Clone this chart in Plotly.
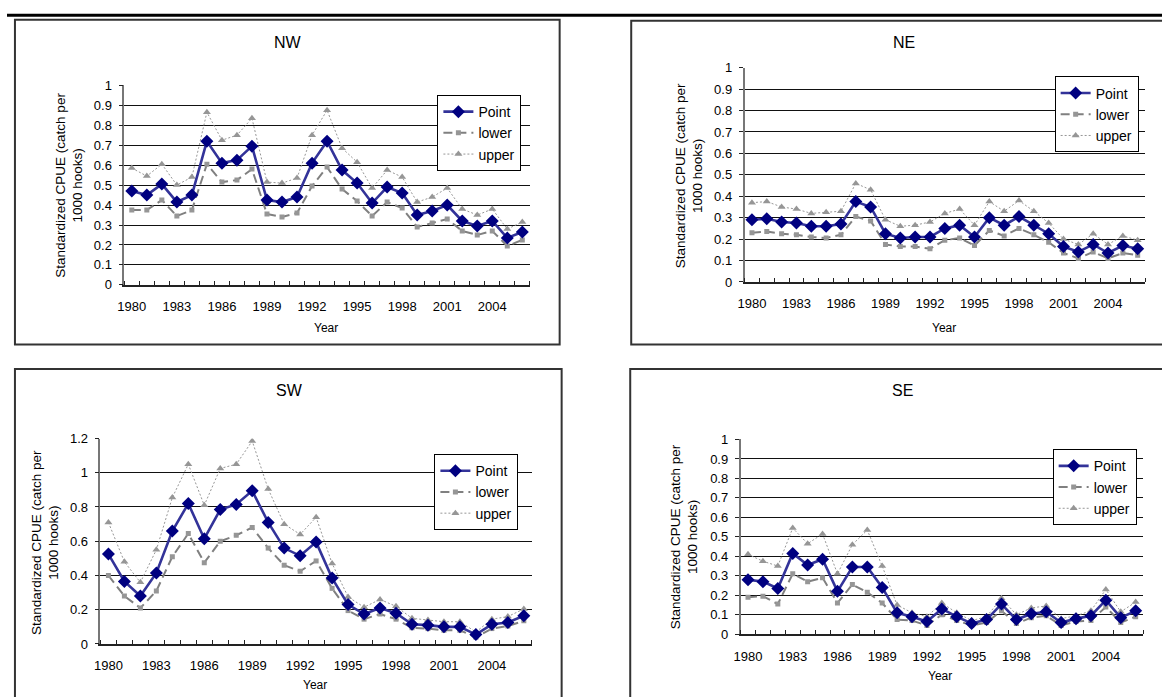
import plotly.graph_objects as go

# ---------------- data ----------------
years = list(range(1980, 2007))
tick_years = [1980, 1983, 1986, 1989, 1992, 1995, 1998, 2001, 2004]

nw_point = [0.47, 0.45, 0.505, 0.415, 0.45, 0.72, 0.61, 0.625, 0.695, 0.425, 0.415, 0.44, 0.61, 0.72,
            0.575, 0.51, 0.41, 0.49, 0.46, 0.35, 0.37, 0.40, 0.32, 0.295, 0.32, 0.235, 0.265]
nw_lower = [0.375, 0.375, 0.425, 0.345, 0.375, 0.605, 0.515, 0.525, 0.58, 0.355, 0.34, 0.36, 0.495, 0.59,
            0.48, 0.42, 0.345, 0.415, 0.385, 0.29, 0.31, 0.33, 0.27, 0.25, 0.27, 0.195, 0.225]
nw_upper = [0.585, 0.545, 0.605, 0.50, 0.54, 0.865, 0.725, 0.75, 0.835, 0.515, 0.51, 0.535, 0.75, 0.875,
            0.685, 0.615, 0.485, 0.575, 0.54, 0.415, 0.44, 0.485, 0.38, 0.35, 0.38, 0.28, 0.315]

ne_point = [0.29, 0.295, 0.28, 0.275, 0.26, 0.26, 0.27, 0.375, 0.35, 0.225, 0.205, 0.21, 0.21, 0.25,
            0.265, 0.21, 0.30, 0.265, 0.305, 0.265, 0.225, 0.165, 0.14, 0.175, 0.135, 0.17, 0.155]
ne_lower = [0.23, 0.235, 0.225, 0.22, 0.21, 0.205, 0.22, 0.305, 0.285, 0.175, 0.165, 0.165, 0.155, 0.195,
            0.205, 0.17, 0.24, 0.215, 0.25, 0.22, 0.185, 0.135, 0.11, 0.14, 0.11, 0.135, 0.125]
ne_upper = [0.37, 0.375, 0.35, 0.34, 0.32, 0.325, 0.33, 0.46, 0.43, 0.29, 0.26, 0.265, 0.28, 0.32,
            0.34, 0.265, 0.375, 0.33, 0.38, 0.33, 0.275, 0.20, 0.175, 0.225, 0.175, 0.215, 0.195]

sw_point = [0.525, 0.365, 0.28, 0.415, 0.66, 0.82, 0.615, 0.785, 0.815, 0.895, 0.71, 0.56, 0.515, 0.595,
            0.385, 0.23, 0.175, 0.21, 0.18, 0.115, 0.11, 0.10, 0.10, 0.055, 0.115, 0.125, 0.165]
sw_lower = [0.40, 0.28, 0.21, 0.31, 0.51, 0.645, 0.475, 0.60, 0.635, 0.68, 0.56, 0.46, 0.425, 0.485,
            0.325, 0.195, 0.145, 0.175, 0.145, 0.095, 0.09, 0.08, 0.08, 0.04, 0.09, 0.105, 0.135]
sw_upper = [0.71, 0.48, 0.36, 0.55, 0.855, 1.05, 0.81, 1.025, 1.05, 1.185, 0.905, 0.70, 0.64, 0.74,
            0.47, 0.275, 0.215, 0.26, 0.22, 0.15, 0.14, 0.13, 0.13, 0.07, 0.145, 0.16, 0.205]

se_point = [0.28, 0.27, 0.235, 0.415, 0.355, 0.385, 0.22, 0.345, 0.345, 0.24, 0.11, 0.09, 0.065, 0.13,
            0.09, 0.055, 0.075, 0.155, 0.075, 0.105, 0.115, 0.06, 0.08, 0.095, 0.175, 0.085, 0.12]
se_lower = [0.19, 0.195, 0.155, 0.31, 0.27, 0.29, 0.16, 0.255, 0.215, 0.16, 0.075, 0.07, 0.045, 0.10,
            0.07, 0.045, 0.06, 0.12, 0.055, 0.085, 0.095, 0.045, 0.065, 0.07, 0.14, 0.06, 0.09]
se_upper = [0.41, 0.375, 0.35, 0.545, 0.465, 0.515, 0.31, 0.46, 0.535, 0.35, 0.15, 0.11, 0.09, 0.16,
            0.11, 0.07, 0.09, 0.185, 0.10, 0.135, 0.145, 0.08, 0.095, 0.12, 0.23, 0.115, 0.165]

series_names = ["Point", "lower", "upper"]
y_title = "Standardized CPUE (catch per<br>1000 hooks)"
x_title = "Year"

# ---------------- layout helpers ----------------
W, H = 1162, 697
FONT = "Liberation Sans, Arial, sans-serif"


def fx(px):
    return px / W


def fy(py):
    return 1 - py / H


panels = [
    dict(title="NW", data=(nw_point, nw_lower, nw_upper), ymax=1.0, ystep=0.1,
         plot=(118, 80, 526, 284), title_xy=(283, 36), ytitle_xy=(62, 182), xtitle_xy=(321, 328),
         legend_xy=(433, 90), box=(8, 13, 556, 345)),
    dict(title="NE", data=(ne_point, ne_lower, ne_upper), ymax=1.0, ystep=0.1,
         plot=(742, 62, 1145, 281), title_xy=(902, 36), ytitle_xy=(686, 172), xtitle_xy=(943, 328),
         legend_xy=(1054, 71), box=(628, 14, 1175, 345)),
    dict(title="SW", data=(sw_point, sw_lower, sw_upper), ymax=1.2, ystep=0.2,
         plot=(94, 441, 528, 651), title_xy=(284, 392), ytitle_xy=(38, 547), xtitle_xy=(310, 693),
         legend_xy=(430, 457), box=(8, 370, 558, 710)),
    dict(title="SE", data=(se_point, se_lower, se_upper), ymax=1.0, ystep=0.1,
         plot=(738, 442, 1143, 641), title_xy=(901, 392), ytitle_xy=(681, 541), xtitle_xy=(939, 684),
         legend_xy=(1052, 452), box=(627, 370, 1175, 710)),
]

styles = {
    "Point": dict(line=dict(color="#333399", width=2.6),
                  marker=dict(symbol="diamond", size=10, color="#000080", line=dict(width=0))),
    "lower": dict(line=dict(color="#808080", width=2, dash="9px,5px"),
                  marker=dict(symbol="square", size=5, color="#969696", line=dict(width=0))),
    "upper": dict(line=dict(color="#969696", width=1, dash="2px,2px"),
                  marker=dict(symbol="triangle-up", size=7, color="#969696", line=dict(width=0))),
}

fig = go.Figure()
annotations = []
shapes = []
boundaries = [y - 0.5 for y in years] + [years[-1] + 0.5]

for i, p in enumerate(panels):
    n = "" if i == 0 else str(i + 1)
    xa, ya = "x" + n, "y" + n
    leg = "legend" + n
    # draw order: upper, lower, point (point on top)
    for name, vals in reversed(list(zip(series_names, p["data"]))):
        st = styles[name]
        fig.add_trace(go.Scatter(x=years, y=vals, name=name, mode="lines+markers",
                                 line=st["line"], marker=st["marker"],
                                 xaxis=xa, yaxis=ya, legend=leg, showlegend=True))
    x0, y0, x1, y1 = p["plot"]
    xaxis = dict(domain=[fx(x0), fx(x1)], anchor=ya, range=[1979.5, 2006.5],
                 tickmode="array", tickvals=tick_years, ticktext=[str(t) for t in tick_years],
                 ticks="", showgrid=False, zeroline=False, showline=True,
                 linecolor="#222222", linewidth=1.5, ticklabelstandoff=9,
                 tickfont=dict(family=FONT, size=13, color="black"),
                 minor=dict(tickmode="array", tickvals=boundaries, ticks="inside",
                            ticklen=4, tickcolor="#222222", tickwidth=1, showgrid=False))
    nt = int(round(p["ymax"] / p["ystep"]))
    yvals = [round(k * p["ystep"], 1) for k in range(nt + 1)]
    yaxis = dict(domain=[fy(y1), fy(y0)], anchor=xa, range=[0, p["ymax"]],
                 tickmode="array", tickvals=yvals, ticktext=[("%g" % v) for v in yvals],
                 ticks="outside", ticklen=4, tickcolor="#222222", showgrid=True,
                 gridcolor="#111111", gridwidth=1, zeroline=False, showline=True,
                 linecolor="#777777", linewidth=1.5, ticklabelstandoff=4,
                 tickfont=dict(family=FONT, size=13, color="black"))
    fig.update_layout(**{"xaxis" + n: xaxis, "yaxis" + n: yaxis})

    lx, ly = p["legend_xy"]
    fig.update_layout(**{leg: dict(x=fx(lx), y=fy(ly), xanchor="left", yanchor="top",
                                   bgcolor="white", bordercolor="black", borderwidth=1,
                                   font=dict(family=FONT, size=14, color="black"),
                                   traceorder="reversed", tracegroupgap=0, itemwidth=30)})

    tx, ty = p["title_xy"]
    annotations.append(dict(x=fx(tx), y=fy(ty), xref="paper", yref="paper", text=p["title"],
                            showarrow=False, font=dict(family=FONT, size=16, color="black"),
                            xanchor="center", yanchor="middle"))
    yx, yy = p["ytitle_xy"]
    annotations.append(dict(x=fx(yx), y=fy(yy), xref="paper", yref="paper", text=y_title,
                            showarrow=False, textangle=-90,
                            font=dict(family=FONT, size=13.5, color="black"),
                            xanchor="center", yanchor="middle"))
    xx, xy = p["xtitle_xy"]
    annotations.append(dict(x=fx(xx), y=fy(xy), xref="paper", yref="paper", text=x_title,
                            showarrow=False, font=dict(family=FONT, size=12, color="black"),
                            xanchor="center", yanchor="middle"))
    bx0, by0, bx1, by1 = p["box"]
    shapes.append(dict(type="rect", xref="paper", yref="paper", x0=fx(bx0), x1=fx(bx1),
                       y0=fy(by1), y1=fy(by0), line=dict(color="#333333", width=2),
                       fillcolor="rgba(0,0,0,0)", layer="below"))

# thick rule across the top
shapes.append(dict(type="line", xref="paper", yref="paper", x0=0, x1=1, y0=fy(8.5), y1=fy(8.5),
                   line=dict(color="black", width=3)))

fig.update_layout(width=W, height=H, autosize=False,
                  margin=dict(l=0, r=0, t=0, b=0, pad=0),
                  paper_bgcolor="white", plot_bgcolor="white",
                  font=dict(family=FONT, color="black"),
                  annotations=annotations, shapes=shapes)

fig.write_html("out.html")
